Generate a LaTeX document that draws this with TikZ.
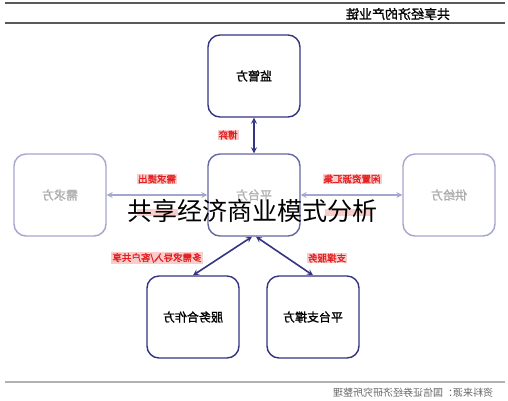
\documentclass[tikz,border=0pt]{standalone}
\usepackage{fontspec}
\usepackage{graphicx}
\newfontfamily\cjk[AutoFakeBold=1.5]{Noto Sans CJK SC}
\definecolor{navy}{RGB}{52,52,130}
\definecolor{pale}{RGB}{165,165,205}
\definecolor{lbl}{RGB}{228,30,30}
\definecolor{hl}{RGB}{250,205,205}

\begin{document}
\begin{tikzpicture}[x=1pt,y=-1pt,
  party/.style={draw=navy,line width=1.4pt,rounded corners=12pt,fill=white,
    minimum width=92pt,minimum height=82pt,font=\cjk\bfseries\fontsize{12}{12}\selectfont},
  faint/.style={party,draw=pale,text=gray!65},
  tag/.style={text=lbl,fill=hl,inner sep=1pt,font=\cjk\bfseries\fontsize{9.5}{10}\selectfont},
  link/.style={<->,>=stealth,line width=1.6pt,draw=navy}]
\useasboundingbox (0,0) rectangle (508,400);
% header and footer rules
\draw [gray!70!black,line width=1.2pt] (5,3) -- (505,3);
\draw [gray!70!black,line width=1.2pt] (5,23) -- (505,23);
\draw [gray!60,line width=2pt] (5,382) -- (505,382);
\node [font=\cjk\bfseries\fontsize{13}{13}\selectfont] (tt) at (398,14) {\reflectbox{共享经济的产业链}};
\node [font=\cjk\fontsize{10}{10}\selectfont,text=gray!80!black] (ly) at (413,393) {\reflectbox{资料来源：国信证券经济研究所整理}};
% parties
\node [party] (jg) at (254,76) {\reflectbox{监管方}};
\node [party,draw=navy!75,text=gray!60] (pt) at (254,195) {\reflectbox{平台方}};
\node [faint] (xq) at (60,195) {\reflectbox{需求方}};
\node [faint] (gj) at (449,195) {\reflectbox{供给方}};
\node [party] (fw) at (193,317) {\reflectbox{服务合作方}};
\node [party] (zc) at (313,317) {\reflectbox{平台支撑方}};
% links
\draw [link] (jg) -- (pt);
\draw [link,draw=pale] (xq) -- (pt);
\draw [link,draw=pale] (gj) -- (pt);
\draw [link] ([xshift=-2pt]pt.south) -- (fw.north);
\draw [link] ([xshift=2pt]pt.south) -- (zc.north);
% labels
\node [tag] (by) at (228,135) {\reflectbox{博弈}};
\node [tag] (tc) at (157,179) {\reflectbox{需求提出}};
\node [tag] (hj) at (352,179) {\reflectbox{闲置资源汇集}};
\node [tag] (dr) at (157,258) {\reflectbox{多需求导入/客户共享}};
\node [tag] (fu) at (327,258) {\reflectbox{支撑服务}};
\fill [hl] (137,209) rectangle (178,216);
\fill [hl] (325,209) rectangle (372,216);
% overlay
\node [font=\cjk\fontsize{25}{25}\selectfont] (fx) at (252,211) {共享经济商业模式分析};
\end{tikzpicture}
\end{document}
